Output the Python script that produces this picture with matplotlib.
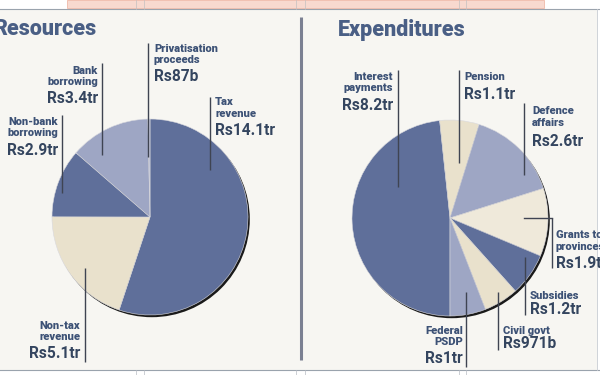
import matplotlib
matplotlib.use("Agg")
import matplotlib.pyplot as plt
from matplotlib import font_manager
from matplotlib.patches import Rectangle, Circle

# ---------------- data ----------------
res_categories = ["Tax\nrevenue", "Non-tax\nrevenue", "Non-bank\nborrowing", "Bank\nborrowing", "Privatisation\nproceeds"]
res_values = [14.1, 5.1, 2.9, 3.4, 0.087]
res_value_labels = ["Rs14.1tr", "Rs5.1tr", "Rs2.9tr", "Rs3.4tr", "Rs87b"]

exp_categories = ["Interest\npayments", "Pension", "Defence\naffairs", "Grants to\nprovinces", "Subsidies", "Civil govt", "Federal\nPSDP"]
exp_values = [8.2, 1.1, 2.6, 1.9, 1.2, 0.971, 1.0]
exp_value_labels = ["Rs8.2tr", "Rs1.1tr", "Rs2.6tr", "Rs1.9tr", "Rs1.2tr", "Rs971b", "Rs1tr"]

titles = ["Resources", "Expenditures"]

# ---------------- style ----------------
avail = {f.name for f in font_manager.fontManager.ttflist}
family = "Roboto" if "Roboto" in avail else "DejaVu Sans"

DARK = "#5f6f9a"
LIGHT = "#9ea6c4"
BEIGE = "#e9e1cc"
BEIGE2 = "#efe9da"
SLIVER = "#b4bad2"
TXT = "#3d5276"
VAL = "#34455f"
LINE = "#3f4452"
BG = "#f7f6f2"

res_colors = [DARK, BEIGE, DARK, LIGHT, SLIVER]
exp_colors = [DARK, BEIGE, LIGHT, BEIGE2, DARK, BEIGE, LIGHT]

W, H = 600, 375
fig = plt.figure(figsize=(6, 3.75), dpi=100)
fig.patch.set_facecolor("white")
ax = fig.add_axes([0, 0, 1, 1])


def Y(y):
    return H - y


def draw_pie(values, colors, cx, cy, r, start):
    ax.add_patch(Circle((cx + 1.8, Y(cy) - 2.2), r, facecolor="#1a1a1a", edgecolor="none", zorder=3))
    ax.pie(values, colors=colors, startangle=start, counterclock=False,
           center=(cx, Y(cy)), radius=r, frame=True,
           wedgeprops=dict(linewidth=0.4, edgecolor="#d9d9de", zorder=4))


draw_pie(res_values, res_colors, 150, 217, 98, 90)
draw_pie(exp_values, exp_colors, 450, 218, 98, 270)
ax.set_xlim(0, W)
ax.set_ylim(0, H)
ax.set_aspect("equal")
ax.axis("off")

# background panel
ax.add_patch(Rectangle((0, Y(370)), 597, 361, facecolor=BG, edgecolor="none", zorder=0))
# top pink strip
ax.add_patch(Rectangle((67, Y(8)), 477, 8, facecolor="#f8d9cf", edgecolor="#f0b9a8", lw=0.6, zorder=1))
ax.plot([0, 600], [Y(9), Y(9)], color="#9aa3ad", lw=0.8, zorder=2)
ax.plot([0, 600], [Y(370), Y(370)], color="#9aa3ad", lw=0.8, zorder=2)
ax.plot([597, 597], [Y(9), Y(370)], color="#c8ccd2", lw=0.6, zorder=2)
for gx in [136, 144, 296, 305, 459, 466]:
    ax.plot([gx, gx], [Y(0), Y(9)], color="#c4c0c0", lw=0.5, zorder=2)
    ax.plot([gx, gx], [Y(370), Y(375)], color="#b8bcc4", lw=0.5, zorder=2)
# divider
ax.plot([301, 301], [Y(17), Y(360)], color="#7b8092", lw=2.2, solid_capstyle="butt", zorder=2)

# titles
ax.text(-6, Y(35), titles[0], fontsize=15.5, fontweight="heavy", color="#4a5f85", family=family, ha="left", va="baseline")
ax.text(338, Y(36), titles[1], fontsize=15.5, fontweight="heavy", color="#4a5f85", family=family, ha="left", va="baseline")


def label(x, y_base, name, val, ha):
    lines = name.split("\n")
    for i, ln in enumerate(lines):
        ax.text(x, Y(y_base[i]), ln, fontsize=8, fontweight="heavy", color=TXT,
                family=family, ha=ha, va="baseline", zorder=6)
    ax.text(x, Y(y_base[-1]), val, fontsize=11.2, fontweight="bold", color=VAL,
            family=family, ha=ha, va="baseline", zorder=6)


def vline(x, y0, y1):
    ax.plot([x, x], [Y(y0), Y(y1)], color=LINE, lw=1.0, zorder=5, solid_capstyle="butt")


# Resources labels
label(215, [105, 117, 135], res_categories[0], res_value_labels[0], "left"); vline(210, 97, 170)
label(80, [329, 340, 358], res_categories[1], res_value_labels[1], "right"); vline(85, 268, 362)
label(58, [125, 136, 155], res_categories[2], res_value_labels[2], "right"); vline(62, 115, 193)
label(98, [74, 85, 103], res_categories[3], res_value_labels[3], "right"); vline(102, 63, 155)
label(154, [52, 63, 81], res_categories[4], res_value_labels[4], "left"); vline(148, 43, 157)

# Expenditures labels
label(393, [80, 91, 110], exp_categories[0], exp_value_labels[0], "right"); vline(398, 70, 187)
label(464, [80, 99], exp_categories[1], exp_value_labels[1], "left"); vline(459, 70, 163)
label(532, [114, 126, 146], exp_categories[2], exp_value_labels[2], "left"); vline(524, 103, 175)
label(556, [238, 250, 268], exp_categories[3], exp_value_labels[3], "left")
ax.plot([524, 552], [Y(218), Y(218)], color=LINE, lw=1.0, zorder=5)
vline(552, 218, 268)
label(530, [299, 314], exp_categories[4], exp_value_labels[4], "left"); vline(525, 257, 315)
label(503, [334, 348], exp_categories[5], exp_value_labels[5], "left"); vline(498, 292, 350)
label(463, [334, 345, 363], exp_categories[6], exp_value_labels[6], "right"); vline(466, 292, 367)

fig.savefig("out.png", dpi=100, facecolor=fig.get_facecolor())
